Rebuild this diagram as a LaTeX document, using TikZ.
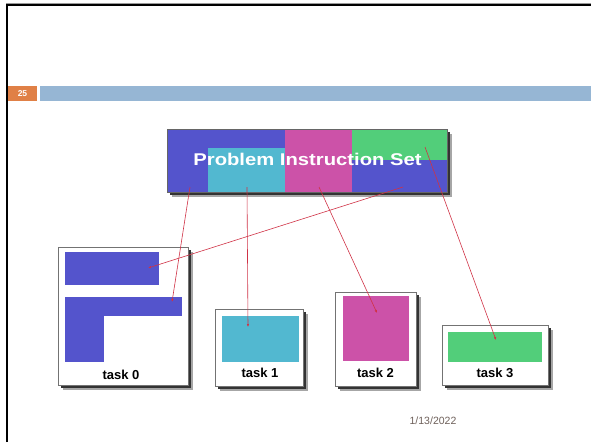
\documentclass[tikz,border=0pt]{standalone}
\usepackage{fontspec}
\setmainfont{Liberation Sans}
\usetikzlibrary{arrows.meta}
\definecolor{cblue}{RGB}{84,84,204}
\definecolor{ccyan}{RGB}{82,184,208}
\definecolor{cmag}{RGB}{204,82,168}
\definecolor{cgreen}{RGB}{82,206,122}
\definecolor{corange}{RGB}{224,128,70}
\definecolor{cbar}{RGB}{150,182,212}
\definecolor{cred}{RGB}{208,50,70}
\definecolor{cdate}{RGB}{110,96,90}
\tikzset{
  rect/.style={inner sep=0pt, outer sep=0pt, anchor=north west, draw=none},
  taskbox/.style={rect, fill=white, draw=black!55, line width=0.8pt},
  shadowbox/.style={rect, fill=black!80},
  softshadow/.style={rect, fill=black!35},
  label/.style={font=\bfseries\fontsize{13}{15}\selectfont, inner sep=0pt},
  link/.style={draw=cred, line width=0.6pt, -{Latex[length=3pt,width=2.6pt]}},
}
\begin{document}
\begin{tikzpicture}[x=1pt,y=-1pt]
\useasboundingbox (0,0) rectangle (591,442);
% slide frame
\draw[black!40, line width=1pt] (6,3.5) -- (591,3.5);
\draw[black, line width=2pt] (7,442) -- (7,5) -- (591,5);
% header
\node[rect, fill=corange, minimum width=29pt, minimum height=15pt] (num) at (8,86) {};
\node[font=\bfseries\fontsize{8.5}{9}\selectfont, text=white, inner sep=0pt] at (num.center) {25};
\node[rect, fill=cbar, minimum width=551pt, minimum height=15pt] (bar) at (40,86) {};

% Problem Instruction Set
\node[softshadow, minimum width=280pt, minimum height=63pt] at (171.5,133.5) {};
\node[shadowbox, minimum width=280pt, minimum height=63pt] at (170,132) {};
\node[rect, fill=cblue, minimum width=280pt, minimum height=63pt] (pis) at (167,129) {};
\node[rect, fill=ccyan, minimum width=77pt, minimum height=44pt] (pc) at (208,148) {};
\node[rect, fill=cmag, minimum width=67pt, minimum height=63pt] (pm) at (285,129) {};
\node[rect, fill=cgreen, minimum width=95pt, minimum height=31pt] (pg) at (352,129) {};
\node[rect, draw=black!60, line width=0.6pt, minimum width=280pt, minimum height=63pt] at (167,129) {};
\node[text=white, font=\bfseries\fontsize{17}{19}\selectfont, inner sep=0pt] (pistext) at (307.5,159.5) {\scalebox{1.19}[1]{Problem Instruction Set}};

% task 0
\node[softshadow, minimum width=130pt, minimum height=138pt] at (62.5,251.5) {};
\node[shadowbox, minimum width=130pt, minimum height=138pt] at (61,250) {};
\node[taskbox, minimum width=130pt, minimum height=138pt] (t0) at (58,247) {};
\node[rect, fill=cblue, minimum width=94pt, minimum height=33pt] (t0a) at (65,252) {};
\node[rect, fill=cblue, minimum width=117pt, minimum height=19pt] (t0b) at (65,297) {};
\node[rect, fill=cblue, minimum width=39pt, minimum height=65pt] (t0c) at (65,297) {};
\node[label] (l0) at (121,375) {task 0};

% task 1
\node[softshadow, minimum width=88pt, minimum height=77pt] at (219.5,313.5) {};
\node[shadowbox, minimum width=88pt, minimum height=77pt] at (218,312) {};
\node[taskbox, minimum width=88pt, minimum height=77pt] (t1) at (215,309) {};
\node[rect, fill=ccyan, minimum width=77pt, minimum height=46pt] (t1a) at (222,316) {};
\node[label] (l1) at (260,373) {task 1};

% task 2
\node[softshadow, minimum width=81pt, minimum height=94pt] at (339.5,296.5) {};
\node[shadowbox, minimum width=81pt, minimum height=94pt] at (338,295) {};
\node[taskbox, minimum width=81pt, minimum height=94pt] (t2) at (335,292) {};
\node[rect, fill=cmag, minimum width=66pt, minimum height=65pt] (t2a) at (343,296) {};
\node[label] (l2) at (375.5,373) {task 2};

% task 3
\node[softshadow, minimum width=106pt, minimum height=60pt] at (446.5,329.5) {};
\node[shadowbox, minimum width=106pt, minimum height=60pt] at (445,328) {};
\node[taskbox, minimum width=106pt, minimum height=60pt] (t3) at (442,325) {};
\node[rect, fill=cgreen, minimum width=94pt, minimum height=30pt] (t3a) at (448,332) {};
\node[label] (l3) at (495,373) {task 3};

% connectors
\coordinate (s0) at (190,187); \coordinate (e0) at (172,302);
\coordinate (s1) at (247,187); \coordinate (e1) at (248,327);
\coordinate (s2) at (319,187); \coordinate (e2) at (377,313);
\coordinate (s3) at (403,187); \coordinate (e3) at (148,268);
\coordinate (s4) at (425,147); \coordinate (e4) at (496,340);
\draw[link] (s0) -- (e0);
\draw[link] (s1) -- (e1);
\draw[link] (s2) -- (e2);
\draw[link] (s3) -- (e3);
\draw[link] (s4) -- (e4);

% date
\node[text=cdate, font=\fontsize{10.5}{12}\selectfont, inner sep=0pt] (date) at (433,421) {1/13/2022};
\end{tikzpicture}
\end{document}
